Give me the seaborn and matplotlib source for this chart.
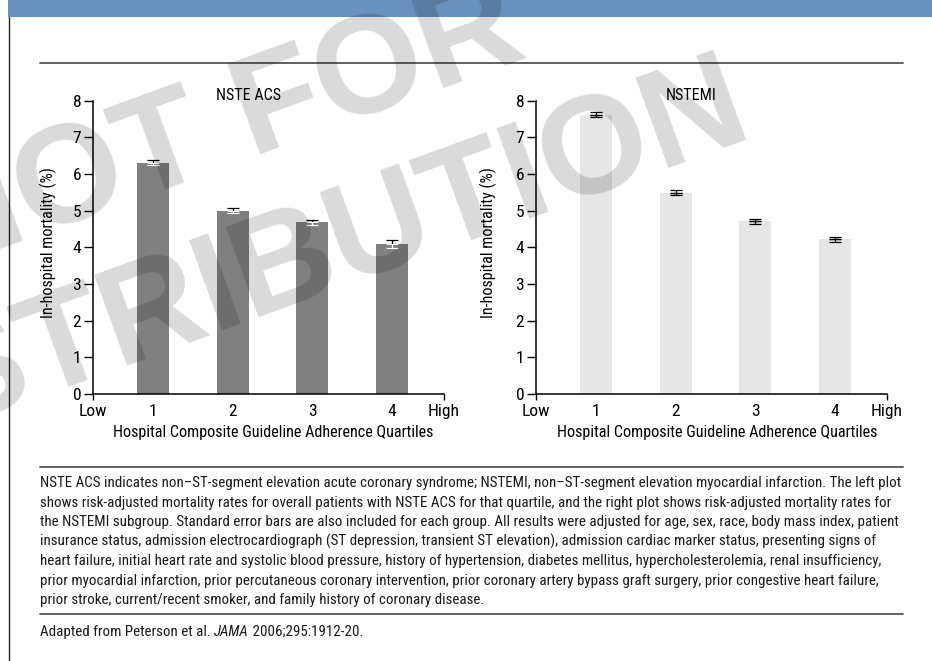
import matplotlib
matplotlib.use("Agg")
import matplotlib.pyplot as plt
from matplotlib import font_manager
import seaborn as sns
import pandas as pd
import numpy as np

# ---------------- data ----------------
quartiles = [1, 2, 3, 4]
nste_acs = [6.31, 5.00, 4.68, 4.09]
nste_acs_se = [0.06, 0.06, 0.07, 0.10]
nstemi = [7.62, 5.49, 4.71, 4.22]
nstemi_se = [0.06, 0.07, 0.07, 0.07]
yticks = [0, 1, 2, 3, 4, 5, 6, 7, 8]
xtick_labels = ["Low", "1", "2", "3", "4", "High"]
panel_titles = ["NSTE ACS", "NSTEMI"]
ylabel = "In-hospital mortality (%)"
xlabel = "Hospital Composite Guideline Adherence Quartiles"
caption_lines = [
    "NSTE ACS indicates non\u2013ST-segment elevation acute coronary syndrome; NSTEMI, non\u2013ST-segment elevation myocardial infarction. The left plot",
    "shows risk-adjusted mortality rates for overall patients with NSTE ACS for that quartile, and the right plot shows risk-adjusted mortality rates for",
    "the NSTEMI subgroup. Standard error bars are also included for each group. All results were adjusted for age, sex, race, body mass index, patient",
    "insurance status, admission electrocardiograph (ST depression, transient ST elevation), admission cardiac marker status, presenting signs of",
    "heart failure, initial heart rate and systolic blood pressure, history of hypertension, diabetes mellitus, hypercholesterolemia, renal insufficiency,",
    "prior myocardial infarction, prior percutaneous coronary intervention, prior coronary artery bypass graft surgery, prior congestive heart failure,",
    "prior stroke, current/recent smoker, and family history of coronary disease.",
]
source_prefix = "Adapted from Peterson et al. "
source_journal = "JAMA"
source_suffix = " 2006;295:1912-20."
watermark_lines = ["NOT FOR", "DISTRIBUTION"]

# ---------------- style ----------------
sns.set_theme(style="white")
names = {f.name for f in font_manager.fontManager.ttflist}
cands = ["Roboto Condensed", "Archivo Narrow", "PT Sans Narrow", "IBM Plex Sans Condensed",
         "Liberation Sans Narrow", "Open Sans Condensed", "Liberation Sans"]
narrow = next(c for c in cands if c in names)
plt.rcParams["font.family"] = [narrow, "DejaVu Sans"]

W, H = 932, 661
fig = plt.figure(figsize=(W / 100, H / 100), dpi=100)
fig.patch.set_facecolor("white")
renderer = fig.canvas.get_renderer()


def fx(x):
    return x / W


def fy(y):
    return 1 - y / H


def fit(t, target, dim="w"):
    bb = t.get_window_extent(renderer)
    cur = bb.width if dim == "w" else bb.height
    t.set_fontsize(t.get_fontsize() * target / cur)
    return t.get_fontsize()


# header band, left border, rules
fig.patches.append(plt.Rectangle((fx(8), fy(17)), 1 - fx(8), 17 / H, transform=fig.transFigure,
                                 facecolor="#6792be", edgecolor="none", zorder=1))
fig.lines.append(plt.Line2D([fx(8.5), fx(8.5)], [0, fy(17)], transform=fig.transFigure,
                            color="#222222", lw=1.0))
for yy in (63, 467, 614):
    fig.lines.append(plt.Line2D([fx(40), fx(903)], [fy(yy), fy(yy)], transform=fig.transFigure,
                                color="#555555", lw=1.3))

# chart font size from x label width
probe = fig.text(0, 0, xlabel, fontsize=10)
chart_fs = fit(probe, 320)
probe.remove()

ax_left, ax_w = [93, 536], 351
ax_top, ax_bot = 100.7, 394
axes = []
for lx in ax_left:
    ax = fig.add_axes([fx(lx), fy(ax_bot), ax_w / W, (ax_bot - ax_top) / H])
    axes.append(ax)

panels = [
    (axes[0], nste_acs, nste_acs_se, "#808080", True),
    (axes[1], nstemi, nstemi_se, "#e6e6e6", False),
]
for ax, vals, se, col, split in panels:
    df = pd.DataFrame({"quartile": quartiles, "mortality": vals})
    sns.barplot(data=df, x="quartile", y="mortality", native_scale=True, width=0.4,
                color=col, saturation=1, errorbar=None, linewidth=0, ax=ax)
    se = np.array(se)
    zeros = np.zeros_like(se)
    ax.errorbar(quartiles, vals, yerr=[zeros, se], fmt="none", ecolor="black",
                elinewidth=0.9, capsize=4.5, capthick=0.9, zorder=5)
    ax.errorbar(quartiles, vals, yerr=[se, zeros], fmt="none",
                ecolor="white" if split else "black",
                elinewidth=0.9, capsize=4.5, capthick=0.9, zorder=5)
    ax.set_xlim(0.25, 4.65)
    ax.set_ylim(0, 8)
    ax.set_yticks(yticks)
    ax.set_yticklabels([str(t) for t in yticks], fontsize=chart_fs * 1.08)
    ax.set_xticks([0.25, 1, 2, 3, 4, 4.65])
    ax.set_xticklabels(xtick_labels, fontsize=chart_fs * 1.08)
    ax.tick_params(axis="y", direction="out", length=6.5, width=1.0, pad=2, left=True, colors="black")
    ax.tick_params(axis="x", direction="out", length=4, width=1.0, pad=3, bottom=True, colors="black")
    for i, t in enumerate(ax.xaxis.get_major_ticks()):
        if 0 < i < 5:
            t.tick1line.set_visible(False)
    for s in ("top", "right"):
        ax.spines[s].set_visible(False)
    for s in ("left", "bottom"):
        ax.spines[s].set_color("black")
        ax.spines[s].set_linewidth(1.1)
    ax.set_xlabel("")
    ax.set_ylabel("")
    ax.set_facecolor("none")
    ax.grid(False)

# titles and axis labels
for (tx, title), (lx, xl), ylx in zip([(248, panel_titles[0]), (690.7, panel_titles[1])],
                                       [(273, xlabel), (717, xlabel)], [48.5, 488.5]):
    fig.text(fx(tx), fy(95), title, ha="center", va="center", fontsize=chart_fs, color="black")
    fig.text(fx(lx), fy(432), xl, ha="center", va="center", fontsize=chart_fs, color="black")
    fig.text(fx(ylx), fy(242.5), ylabel, ha="center", va="center", rotation=90,
             fontsize=chart_fs, color="black")

# caption
line_ys = [483, 502.5, 522, 541.5, 561, 580.5, 600]
first = fig.text(fx(40), fy(line_ys[0]), caption_lines[0], ha="left", va="center",
                 fontsize=9, color="#1a1a1a")
cap_fs = fit(first, 862)
for yy, line in zip(line_ys[1:], caption_lines[1:]):
    fig.text(fx(40), fy(yy), line, ha="left", va="center", fontsize=cap_fs, color="#1a1a1a")
t1 = fig.text(fx(40), fy(632), source_prefix, ha="left", va="center", fontsize=cap_fs, color="#1a1a1a")
bb = t1.get_window_extent(renderer)
t2 = fig.text(bb.x1 / W, fy(632), source_journal, ha="left", va="center", fontsize=cap_fs,
              style="italic", color="#1a1a1a")
bb2 = t2.get_window_extent(renderer)
fig.text(bb2.x1 / W, fy(632), source_suffix, ha="left", va="center", fontsize=cap_fs, color="#1a1a1a")

# watermark (baseline-anchored, rotated)
wm = dict(ha="center", va="baseline", rotation=20, rotation_mode="anchor", fontsize=101,
          fontweight="bold", color="black", alpha=0.15, zorder=100,
          family=["Liberation Sans", "DejaVu Sans"])
fig.text(fx(233), fy(164), watermark_lines[0], **wm)
fig.text(fx(287), fy(304), watermark_lines[1], **wm)

fig.savefig("out.png", dpi=100, facecolor="white")
